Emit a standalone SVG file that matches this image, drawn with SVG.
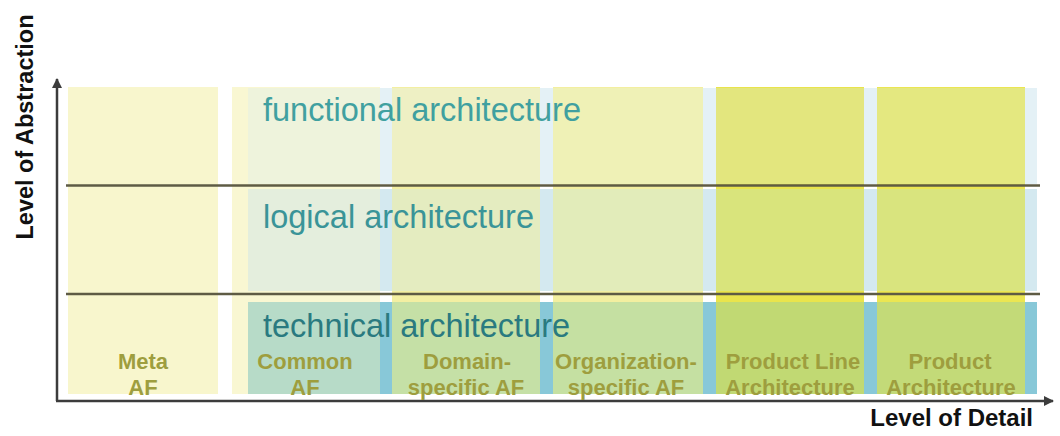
<svg xmlns="http://www.w3.org/2000/svg" width="1060" height="436" viewBox="0 0 1060 436">
<defs>
<style>
.row-title{font-family:"Liberation Sans",Arial,sans-serif;font-size:32.5px}
.col-label{font-family:"Liberation Sans",Arial,sans-serif;font-size:22px;font-weight:bold;fill:#9e9e3e;text-anchor:middle}
.axis-label{font-family:"Liberation Sans",Arial,sans-serif;font-weight:bold;fill:#111}
.axis{stroke:#3c3c3c;stroke-width:2.5;fill:none}
.sep{stroke:#5e5b44;stroke-width:2.5}
</style>
<marker id="arrow" viewBox="0 0 10 10" refX="9" refY="5" markerWidth="4" markerHeight="4" orient="auto" markerUnits="strokeWidth">
<path d="M0,0 L10,5 L0,10 z" fill="#3c3c3c"/>
</marker>
</defs>
<rect width="1060" height="436" fill="#ffffff"/>

<g id="columns">
<rect id="col-meta" x="68" y="87" width="150" height="307" fill="#f8f6cd"/>
<rect id="col-common" x="232" y="87" width="148" height="307" fill="#f9f7d2"/>
<rect id="col-domain" x="392" y="87" width="148" height="307" fill="#f3efa2"/>
<rect id="col-org" x="553" y="87" width="150" height="307" fill="#f3efa0"/>
<rect id="col-pl" x="716" y="87" width="148" height="307" fill="#e9e44c"/>
<rect id="col-product" x="877" y="87" width="148" height="307" fill="#ebe652"/>
</g>

<g id="row-functional">
<rect x="248" y="88" width="789" height="96" fill="#e4f1f6"/>
<rect x="248" y="88" width="132" height="96" fill="#eef3dc"/>
<rect x="392" y="88" width="148" height="96" fill="#eef0c4"/>
<rect x="553" y="88" width="150" height="96" fill="#eff1b6"/>
<rect x="716" y="88" width="148" height="96" fill="#e3e67e"/>
<rect x="877" y="88" width="148" height="96" fill="#e4e880"/>
<text class="row-title" x="263" y="121" fill="#40a0a0">functional architecture</text>
</g>

<g id="row-logical">
<rect x="248" y="189" width="789" height="102" fill="#d4e9f0"/>
<rect x="248" y="189" width="132" height="102" fill="#e4eedd"/>
<rect x="392" y="189" width="148" height="102" fill="#e4ecc0"/>
<rect x="553" y="189" width="150" height="102" fill="#e2ecba"/>
<rect x="716" y="189" width="148" height="102" fill="#d9e47c"/>
<rect x="877" y="189" width="148" height="102" fill="#d9e47e"/>
<text class="row-title" x="263" y="228" fill="#3a9498">logical architecture</text>
</g>

<g id="row-technical">
<rect x="248" y="302" width="789" height="92" fill="#88c8d8"/>
<rect x="248" y="302" width="132" height="92" fill="#b7dbc8"/>
<rect x="392" y="302" width="148" height="92" fill="#c5e0a6"/>
<rect x="553" y="302" width="150" height="92" fill="#c5e0a2"/>
<rect x="716" y="302" width="148" height="92" fill="#c1d973"/>
<rect x="877" y="302" width="148" height="92" fill="#c3da78"/>
<text class="row-title" x="263" y="337" fill="#2a7a80">technical architecture</text>
</g>

<g id="connectors">
<line class="sep" x1="66" y1="185.5" x2="1040" y2="185.5"/>
<line class="sep" x1="66" y1="294" x2="1040" y2="294"/>
<line class="axis" x1="57" y1="401" x2="57" y2="79" marker-end="url(#arrow)"/>
<line class="axis" x1="56" y1="401" x2="1053" y2="401" marker-end="url(#arrow)"/>
</g>

<g id="column-labels">
<text class="col-label" x="143" y="369">Meta</text>
<text class="col-label" x="143" y="395">AF</text>
<text class="col-label" x="305" y="369">Common</text>
<text class="col-label" x="305" y="395">AF</text>
<text class="col-label" x="467" y="369">Domain-</text>
<text class="col-label" x="466" y="395">specific AF</text>
<text class="col-label" x="626" y="369">Organization-</text>
<text class="col-label" x="626" y="395">specific AF</text>
<text class="col-label" x="793" y="369">Product Line</text>
<text class="col-label" x="790" y="395">Architecture</text>
<text class="col-label" x="950" y="369">Product</text>
<text class="col-label" x="951" y="395">Architecture</text>
</g>

<g id="axis-labels">
<text class="axis-label" font-size="23.5" text-anchor="middle" transform="translate(33,127) rotate(-90)">Level of Abstraction</text>
<text class="axis-label" font-size="24" text-anchor="end" x="1033" y="426">Level of Detail</text>
</g>
</svg>
